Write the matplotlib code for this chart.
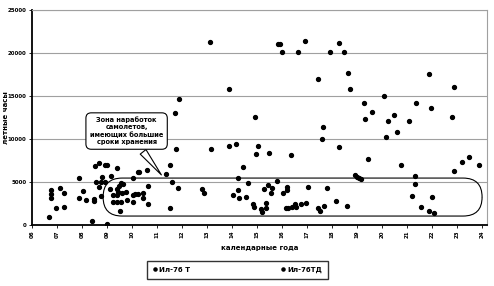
import matplotlib
matplotlib.use("Agg")
import matplotlib.pyplot as plt
from matplotlib.patches import FancyBboxPatch

# calendar year (label index 06..24) and flight hours
t_x = [11.87, 11.72, 13.12, 13.88, 11.75, 13.15, 13.89, 14.16, 14.45, 14.23,
       14.23, 14.05, 14.28, 14.65, 14.56, 6.69, 6.76, 6.77, 6.77, 6.96,
       7.12, 7.28, 7.29, 7.88, 7.89, 8.03, 8.16, 8.39, 8.48, 8.48,
       8.52, 8.55, 8.68, 8.68, 8.76, 8.79, 8.75, 8.92, 8.99, 8.92,
       8.99, 9.12, 9.16, 9.23, 9.25, 9.41, 9.39, 9.45, 9.39, 9.41,
       9.49, 9.56, 9.59, 9.55, 9.52, 9.63, 9.76, 9.81, 10.03, 10.03,
       10.03, 10.12, 10.23, 10.25, 10.29, 10.43, 10.43, 10.59, 10.63, 10.63,
       11.35, 11.52, 11.59, 11.52, 11.83, 12.79, 12.88]
t_y = [14700, 13050, 21250, 15800, 8900, 8800, 9200, 9400, 6800, 5450,
       4070, 3490, 3100, 4850, 3220, 900, 4070, 3570, 3100, 1940,
       4270, 3690, 2130, 5430, 3100, 3990, 2910, 500, 2990, 2790,
       6860, 5030, 7170, 4450, 5030, 5620, 3410, 7010, 6980, 5030,
       100, 4150, 5700, 3490, 2710, 6590, 4150, 3870, 3490, 2710,
       4570, 4920, 3690, 2710, 1660, 4730, 3870, 2910, 5430, 3490,
       2710, 3570, 3570, 6130, 6200, 3690, 3170, 6400, 4540, 2410,
       5900, 6980, 5030, 1940, 4270, 4150, 3690]

td_x = [14.92, 15.03, 15.83, 15.92, 15.99, 16.64, 16.93, 17.45, 17.63, 17.61,
        17.92, 18.28, 18.47, 18.28, 18.64, 18.71, 19.28, 19.33, 19.61, 20.08,
        20.15, 20.23, 20.48, 20.59, 21.08, 21.36, 21.88, 21.97, 22.8, 22.88,
        14.95, 15.49, 16.35, 19.45, 20.75, 14.83, 14.89, 15.16, 15.19, 15.35,
        15.35, 15.28, 15.43, 15.59, 15.56, 15.81, 16.05, 16.19, 16.21, 16.15,
        16.23, 16.39, 16.52, 16.55, 16.76, 16.96, 17.03, 17.45, 17.52, 17.69,
        17.79, 18.15, 18.59, 18.92, 19.01, 19.09, 19.16, 21.19, 21.32, 21.32,
        21.56, 21.88, 21.99, 22.09, 22.89, 23.19, 23.48, 23.88]
td_y = [12590, 9190, 21080, 21080, 20080, 20120, 21360, 16940, 11430, 10040,
        20080, 21160, 20150, 9040, 17640, 15810, 14190, 12290, 13170, 15040,
        10200, 12060, 12790, 10780, 12130, 14150, 17590, 13570, 12560, 16010,
        8220, 8410, 8140, 7640, 6980, 2440, 2130, 1860, 1550, 2520,
        1940, 4190, 4650, 4340, 3690, 5150, 3690, 4450, 4070, 1940,
        1940, 2130, 2410, 2130, 2410, 2520, 4450, 1940, 1660, 2210,
        4270, 2830, 2210, 5810, 5620, 5500, 5350, 3370, 5700, 4730,
        2130, 1660, 3220, 1360, 6310, 7290, 7870, 6980]

year_ticks = list(range(6, 25))
year_labels = ["%02d" % y for y in year_ticks]
hour_ticks = [0, 5000, 10000, 15000, 20000, 25000]

fig = plt.figure(figsize=(4.94, 2.86), dpi=100)
ax = fig.add_axes([0.065, 0.213, 0.921, 0.752])

for h in hour_ticks[1:]:
    ax.axhline(h, color="#a0a0a0", lw=0.8, zorder=0)

ax.plot(t_x, t_y, "o", color="black", ms=2.8, ls="none", label="Ил-76 Т")
ax.plot(td_x, td_y, "o", color="black", ms=2.8, ls="none", label="Ил-76ТД")

ax.set_xlim(6, 24.2)
ax.set_ylim(0, 25000)
ax.set_xticks(year_ticks)
ax.set_xticklabels(year_labels, rotation=90, fontsize=4, fontweight="bold")
ax.set_yticks(hour_ticks)
ax.set_yticklabels([str(h) for h in hour_ticks], fontsize=4, fontweight="bold")
ax.tick_params(length=2, width=0.6, pad=2)

for s in ["left", "bottom"]:
    ax.spines[s].set_linewidth(1.3)
    ax.spines[s].set_color("black")
ax.spines["top"].set_color("#a0a0a0")
ax.spines["right"].set_color("#a0a0a0")
ax.spines["top"].set_linewidth(0.8)
ax.spines["right"].set_linewidth(0.8)

ax.set_ylabel("летные часы", fontsize=5, fontweight="bold")
ax.yaxis.set_label_coords(-0.05, 0.5)
ax.set_xlabel("календарные года", fontsize=5, fontweight="bold", labelpad=5)

# zone of long-stored aircraft
zone = FancyBboxPatch((8.84, 1050), 24.0 - 8.84, 5465 - 1050,
                      boxstyle="round,pad=0,rounding_size=0.76",
                      mutation_aspect=2907, fc="none", ec="black", lw=0.8,
                      transform=ax.transData, zorder=3)
ax.add_patch(zone)

ax.annotate("Зона наработок\nсамолетов,\nимеющих большие\nсроки хранения",
            xy=(11.24, 5580), xytext=(9.78, 10930),
            ha="center", va="center", fontsize=4.8, fontweight="bold",
            bbox=dict(boxstyle="round,pad=0.6,rounding_size=0.8",
                      fc="white", ec="black", lw=0.8),
            arrowprops=dict(arrowstyle="wedge,tail_width=1.1,shrink_factor=0.5",
                            fc="white", ec="black", lw=0.8),
            zorder=5)

fig.legend(loc="center", bbox_to_anchor=(0.48, 0.056), ncol=2,
           prop={"weight": "bold", "size": 5},
           frameon=True, fancybox=False, edgecolor="black",
           columnspacing=13, handletextpad=0.2, handlelength=0.8,
           borderpad=0.8, borderaxespad=0, markerscale=0.8)

fig.savefig("out.png", dpi=100)
